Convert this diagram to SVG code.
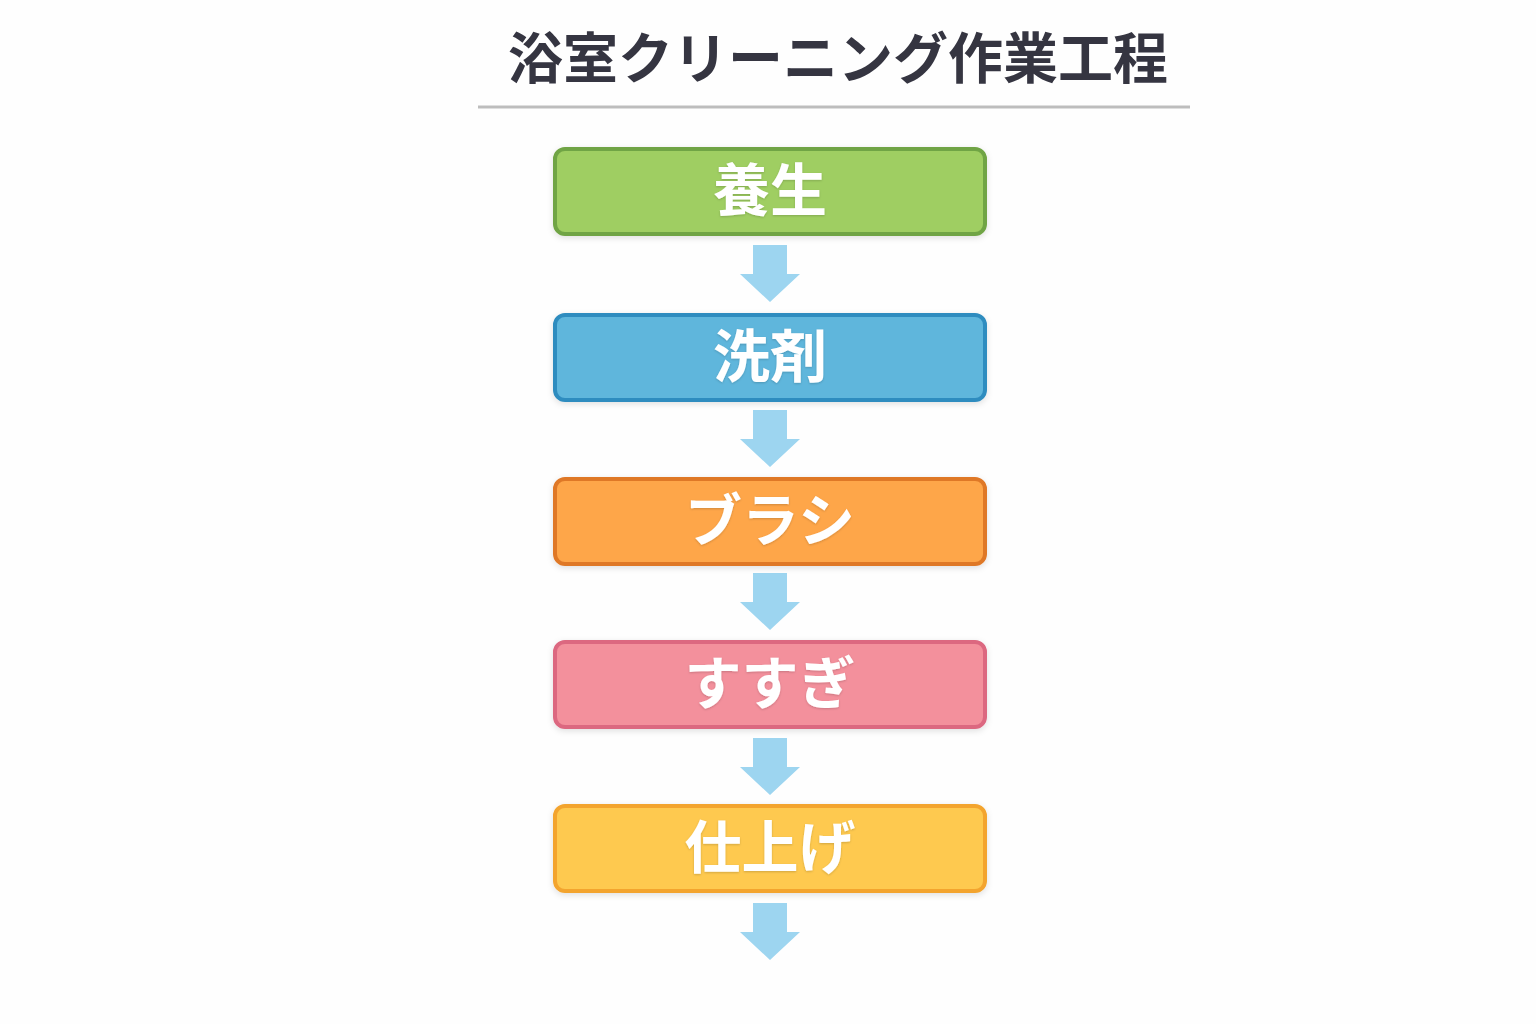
<svg xmlns="http://www.w3.org/2000/svg" width="1536" height="1024" viewBox="0 0 1536 1024">
  <defs>
    <filter id="sh" x="-10%" y="-20%" width="120%" height="150%">
      <feDropShadow dx="0" dy="2" stdDeviation="3" flood-color="#000" flood-opacity="0.12"/>
    </filter>
    <filter id="tsh" x="-10%" y="-20%" width="120%" height="150%">
      <feDropShadow dx="0" dy="1" stdDeviation="1.2" flood-color="#000" flood-opacity="0.18"/>
    </filter>
    <path id="arrow" d="M-17,0 H17 V29 H30 L0,57 L-30,29 H-17 Z"/>
  </defs>
  <style>
    .title { font-family: "Noto Sans CJK JP", "Noto Sans CJK SC", sans-serif; font-weight: 700; font-size: 55px; fill: #353541; }
    .box { stroke-width: 4; filter: url(#sh); }
    .label { font-family: "Noto Sans CJK JP", "Noto Sans CJK SC", sans-serif; font-weight: 700; font-size: 57px; fill: #ffffff; text-anchor: middle; dominant-baseline: central; filter: url(#tsh); }
    .arr { fill: #9DD5F0; }
  </style>
  <rect width="1536" height="1024" fill="#fefefe"/>

  <g id="title">
    <text class="title" x="838" y="54" text-anchor="middle" dominant-baseline="central">浴室クリーニング作業工程</text>
    <line x1="478" y1="107" x2="1190" y2="107" stroke="#bdbdbd" stroke-width="3"/>
  </g>

  <g id="connectors">
    <use href="#arrow" class="arr" x="770" y="245"/>
    <use href="#arrow" class="arr" x="770" y="410"/>
    <use href="#arrow" class="arr" x="770" y="573"/>
    <use href="#arrow" class="arr" x="770" y="738"/>
    <use href="#arrow" class="arr" x="770" y="903"/>
  </g>

  <g id="node-yojo">
    <rect class="box" x="555" y="149" width="430" height="85" rx="10" fill="#9FCE62" stroke="#70A444"/>
    <text class="label" x="770" y="186">養生</text>
  </g>
  <g id="node-senzai">
    <rect class="box" x="555" y="315" width="430" height="85" rx="10" fill="#5FB6DC" stroke="#2F8CBF"/>
    <text class="label" x="770" y="352">洗剤</text>
  </g>
  <g id="node-brush">
    <rect class="box" x="555" y="479" width="430" height="85" rx="10" fill="#FEA64A" stroke="#DF7828"/>
    <text class="label" x="770" y="516">ブラシ</text>
  </g>
  <g id="node-susugi">
    <rect class="box" x="555" y="642" width="430" height="85" rx="10" fill="#F3909C" stroke="#DC6780"/>
    <text class="label" x="770" y="679">すすぎ</text>
  </g>
  <g id="node-shiage">
    <rect class="box" x="555" y="806" width="430" height="85" rx="10" fill="#FEC950" stroke="#F3A42E"/>
    <text class="label" x="770" y="843">仕上げ</text>
  </g>
</svg>
